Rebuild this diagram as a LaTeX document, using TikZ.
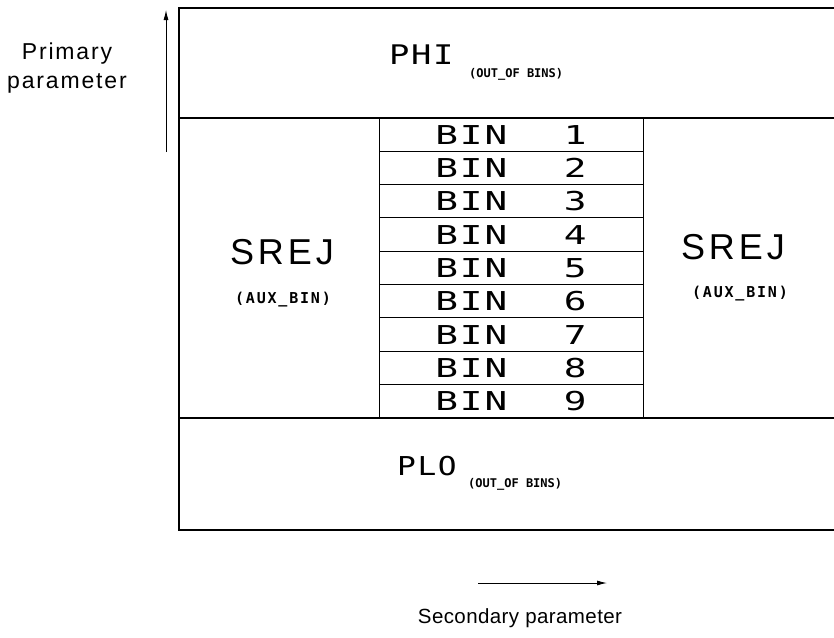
\documentclass[tikz,border=0pt]{standalone}
\usepackage{fontspec}
\usepackage{graphicx}
\setmainfont{Liberation Sans}
\newfontfamily\binfont{DejaVu Sans Mono}[LetterSpace=5]
\newfontfamily\auxfont{DejaVu Sans Mono}[LetterSpace=12]
\newfontfamily\outfont{DejaVu Sans Mono}
\newfontfamily\srejfont{Liberation Sans}[LetterSpace=11]
\newfontfamily\axisfont{Liberation Sans}[LetterSpace=8]
\newfontfamily\secfont{Liberation Sans}[LetterSpace=2]
\usetikzlibrary{arrows.meta}
\newcommand{\widen}[2][1.45]{\scalebox{#1}[1]{#2}}

\begin{document}
\begin{tikzpicture}[x=1pt, y=-1pt, >={Latex[length=10pt,width=5pt]},
  frame/.style={line width=1.1pt},
  binbox/.style={draw, line width=1pt, minimum width=264pt,
                 minimum height=33.33pt, inner sep=0pt,
                 font=\fontsize{26}{26}\binfont},
  bigname/.style={anchor=base west, inner sep=0pt},
  outlabel/.style={anchor=base west, inner sep=0pt,
                   font=\fontsize{12}{12}\outfont\bfseries},
  region/.style={inner sep=0pt, font=\fontsize{36}{36}\srejfont},
  aux/.style={inner sep=0pt, font=\fontsize{15}{15}\auxfont\bfseries},
  axislabel/.style={inner sep=0pt, align=center,
                    font=\fontsize{23}{29}\axisfont}]
  \useasboundingbox (0,0) rectangle (834,637);
  % frame, open on the right
  \draw[frame] (834,8) -- (179,8) -- (179,530) -- (834,530);
  \draw[frame] (179,118) -- (834,118);
  \draw[frame] (179,418) -- (834,418);
  % the bins
  \foreach \i in {1,...,9}
    \node[binbox] (bin\i) at (511, {101.33+33.33*\i}) {\widen{BIN\hspace{1.5em}\i}};
  % out of bins
  \node[bigname, font=\fontsize{27}{27}\binfont] (phi) at (389,64) {\widen[1.25]{PHI}};
  \node[outlabel] (phiout) at (469,77) {(OUT\_OF BINS)};
  \node[bigname, font=\fontsize{26}{26}\binfont] (plo) at (397,475) {\widen[1.2]{PLO}};
  \node[outlabel] (ploout) at (468,487) {(OUT\_OF BINS)};
  % secondary rejects
  \node[region] (srejL) at (282,252) {SREJ};
  \node[aux] (auxL) at (283,300) {(AUX\_BIN)};
  \node[region] (srejR) at (733,247) {SREJ};
  \node[aux] (auxR) at (740,294) {(AUX\_BIN)};
  % axes
  \node[axislabel] (primary) at (67,68) {Primary\\parameter};
  \coordinate (ptail) at (166,152);
  \coordinate (phead) at (166,10);
  \draw[->, line width=0.9pt] (ptail) -- (phead);
  \coordinate (stail) at (478,583);
  \coordinate (shead) at (607,583);
  \draw[->, line width=0.9pt] (stail) -- (shead);
  \node[axislabel, font=\fontsize{20.5}{25}\secfont] (secondary) at (520,618) {Secondary parameter};
\end{tikzpicture}
\end{document}
